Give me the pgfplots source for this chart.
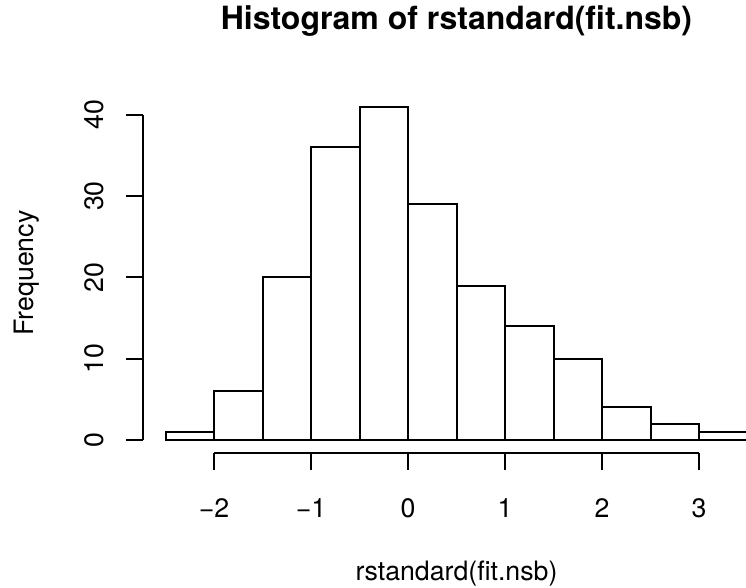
\documentclass[border=0pt]{standalone}
\usepackage{pgfplots}
\pgfplotsset{compat=1.18}
\usepackage{fontspec}
\setmainfont{TeX Gyre Heros}
\begin{document}
\begin{tikzpicture}[x=1pt,y=1pt]
\path[use as bounding box] (0,0) rectangle (746,587);
\begin{axis}[
  at={(143pt,134pt)}, anchor=south west,
  scale only axis, width=603pt, height=360pt,
  xmin=-2.732, xmax=3.4845, ymin=-1.6, ymax=42.68,
  axis x line*=bottom, axis y line*=left,
  axis line style={draw=none},
  clip mode=individual,
  xtick={-2,-1,0,1,2,3}, xticklabels={−2,−1,0,1,2,3},
  ytick={0,10,20,30,40}, yticklabels={0,10,20,30,40},
  tick align=outside, major tick length=17pt,
  tick style={line width=2pt, black},
  minor tick num=0,
  xticklabel shift=47pt, yticklabel shift=23pt,
  x tick label style={anchor=base, inner sep=0pt, font=\fontsize{26.7}{32}\selectfont},
  y tick label style={rotate=90, anchor=base, inner sep=0pt, font=\fontsize{26.7}{32}\selectfont},
  xlabel={rstandard(fit.nsb)},
  ylabel={Frequency},
  xlabel style={at={(axis description cs:0.5199,-0.3528)}, anchor=base, inner sep=0pt, font=\fontsize{26.7}{32}\selectfont},
  ylabel style={at={(axis description cs:-0.1808,0.5)}, anchor=base, inner sep=0pt, font=\fontsize{26.7}{32}\selectfont},
  title={Histogram of rstandard(fit.nsb)},
  title style={at={(axis description cs:0.5199,1.1611)}, anchor=base, inner sep=0pt, font=\bfseries\fontsize{32}{38}\selectfont},
]
\addplot[ybar interval, draw=black, fill=white, line width=2pt] coordinates {
  (-2.5,1) (-2,6) (-1.5,20) (-1,36) (-0.5,41) (0,29) (0.5,19) (1,14) (1.5,10) (2,4) (2.5,2) (3,1) (3.5,1)
};
\draw[line width=2pt] (axis cs:-2,-1.6) -- (axis cs:3,-1.6);
\draw[line width=2pt] (axis cs:-2.732,0) -- (axis cs:-2.732,40);
\end{axis}
\end{tikzpicture}
\end{document}
